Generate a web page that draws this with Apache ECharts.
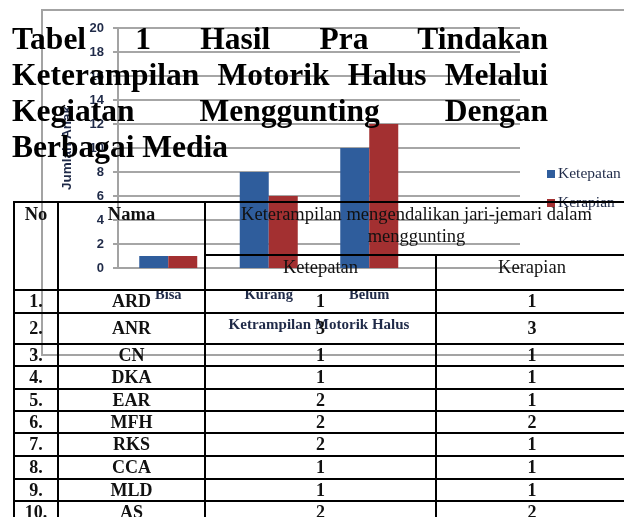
<!DOCTYPE html>
<html>
<head>
<meta charset="utf-8">
<script src="https://cdn.jsdelivr.net/npm/echarts@6/dist/echarts.min.js"></script>
<style>
  html, body { margin: 0; padding: 0; background: #fff; }
  #page { position: relative; width: 624px; height: 517px; overflow: hidden; }
  #chart { position: absolute; left: 0; top: 0; width: 624px; height: 517px; z-index: 1; }
  .title-line {
    position: absolute; left: 12px; width: 536px; height: 36px; line-height: 36px;
    font-family: "Liberation Serif", serif; font-weight: bold; font-size: 31.5px; color: #000;
    text-align: justify; text-align-last: justify; white-space: nowrap; z-index: 2;
  }
  .title-line.last { text-align: left; text-align-last: left; }
  .cell {
    position: absolute; box-sizing: border-box; border: 2px solid #000; z-index: 2;
    font-family: "Liberation Serif", serif; font-size: 18px; color: #111;
    text-align: center; display: flex; align-items: center; justify-content: center;
  }
  .cell.head { align-items: flex-start; line-height: 22px; font-size: 18.5px; }
  .cell.b { font-weight: bold; }
</style>
</head>
<body>
<div id="page">
  <div id="chart"></div>
</div>
<script>
// chart data
const categories = ["Bisa", "Kurang", "Belum", ""];
const ketepatan = [1, 8, 10, null];
const kerapian = [1, 6, 12, null];

// title lines
const titleLines = [
  "Tabel 1 Hasil Pra Tindakan",
  "Keterampilan Motorik Halus Melalui",
  "Kegiatan Menggunting Dengan",
  "Berbagai Media"
];

// table data
const nomor = ["1.", "2.", "3.", "4.", "5.", "6.", "7.", "8.", "9.", "10."];
const nama = ["ARD", "ANR", "CN", "DKA", "EAR", "MFH", "RKS", "CCA", "MLD", "AS"];
const nilaiKetepatan = [1, 3, 1, 1, 2, 2, 2, 1, 1, 2];
const nilaiKerapian = [1, 3, 1, 1, 1, 2, 1, 1, 1, 2];

const page = document.getElementById("page");

// title
titleLines.forEach((t, i) => {
  const d = document.createElement("div");
  d.className = "title-line" + (i === titleLines.length - 1 ? " last" : "");
  d.style.top = (21 + i * 36) + "px";
  d.textContent = t;
  page.appendChild(d);
});

// table
const colX = [14, 58, 205, 436, 628];
const rowY = [290, 313, 344, 366, 389, 411, 433, 456, 479, 501, 524];

function addCell(x0, y0, x1, y1, html, cls) {
  const d = document.createElement("div");
  d.className = "cell " + (cls || "");
  d.style.left = (x0 - 1) + "px";
  d.style.top = (y0 - 1) + "px";
  d.style.width = (x1 - x0 + 2) + "px";
  d.style.height = (y1 - y0 + 2) + "px";
  d.innerHTML = html;
  page.appendChild(d);
}

addCell(colX[0], 202, colX[1], 290, "No", "head b");
addCell(colX[1], 202, colX[2], 290, "Nama", "head b");
addCell(colX[2], 202, colX[4], 255, "Keterampilan mengendalikan jari-jemari dalam<br>menggunting", "head");
addCell(colX[2], 255, colX[3], 290, "Ketepatan", "head");
addCell(colX[3], 255, colX[4], 290, "Kerapian", "head");

nomor.forEach((n, i) => {
  const y0 = rowY[i], y1 = rowY[i + 1];
  addCell(colX[0], y0, colX[1], y1, n, "b");
  addCell(colX[1], y0, colX[2], y1, nama[i], "b");
  addCell(colX[2], y0, colX[3], y1, nilaiKetepatan[i], "b");
  addCell(colX[3], y0, colX[4], y1, nilaiKerapian[i], "b");
});

// chart
const chart = echarts.init(document.getElementById("chart"));
const navy = "#1f2a48";

const option = {
  backgroundColor: "transparent",
  animation: false,
  graphic: [
    {
      type: "rect",
      shape: { x: 42, y: 10, width: 620, height: 345 },
      style: { fill: "none", stroke: "#a3a3a3", lineWidth: 2 },
      silent: true
    }
  ],
  legend: {
    orient: "vertical",
    left: 542,
    top: 161,
    itemWidth: 8,
    itemHeight: 8,
    itemGap: 13,
    icon: "rect",
    textStyle: {
      fontFamily: "Liberation Serif",
      fontSize: 15.5,
      lineHeight: 16,
      color: navy,
      padding: [0, 0, 0, -2]
    },
    data: ["Ketepatan", "Kerapian"]
  },
  grid: {
    left: 118,
    right: 104,
    top: 28,
    bottom: 249,
    containLabel: false
  },
  xAxis: {
    type: "category",
    data: categories,
    name: "Ketrampilan Motorik Halus",
    nameLocation: "middle",
    nameGap: 50,
    nameTextStyle: {
      fontFamily: "Liberation Serif",
      fontWeight: "bold",
      fontSize: 15,
      color: navy
    },
    axisLine: { lineStyle: { color: "#a3a3a3", width: 2 } },
    axisTick: { show: false },
    axisLabel: {
      margin: 20,
      fontFamily: "Liberation Serif",
      fontWeight: "bold",
      fontSize: 14.5,
      color: navy
    }
  },
  yAxis: {
    type: "value",
    min: 0,
    max: 20,
    interval: 2,
    name: "Jumlah Anak",
    nameLocation: "middle",
    nameGap: 44,
    nameTextStyle: {
      fontFamily: "Liberation Sans",
      fontWeight: "bold",
      fontSize: 13.5,
      color: navy
    },
    axisLine: { show: true, lineStyle: { color: "#a3a3a3", width: 2 } },
    axisTick: { show: true, inside: false, length: 5, lineStyle: { color: "#a3a3a3", width: 2 } },
    splitLine: { lineStyle: { color: "#a6a6a6", width: 2 } },
    axisLabel: {
      margin: 14,
      fontFamily: "Liberation Sans",
      fontWeight: "bold",
      fontSize: 13,
      color: navy
    }
  },
  series: [
    {
      name: "Ketepatan",
      type: "bar",
      data: ketepatan,
      barWidth: 29,
      barGap: "0%",
      itemStyle: { color: "#2f5d9c" }
    },
    {
      name: "Kerapian",
      type: "bar",
      data: kerapian,
      barWidth: 29,
      itemStyle: { color: "#a33031" }
    }
  ]
};

chart.setOption(option);
</script>
</body>
</html>
